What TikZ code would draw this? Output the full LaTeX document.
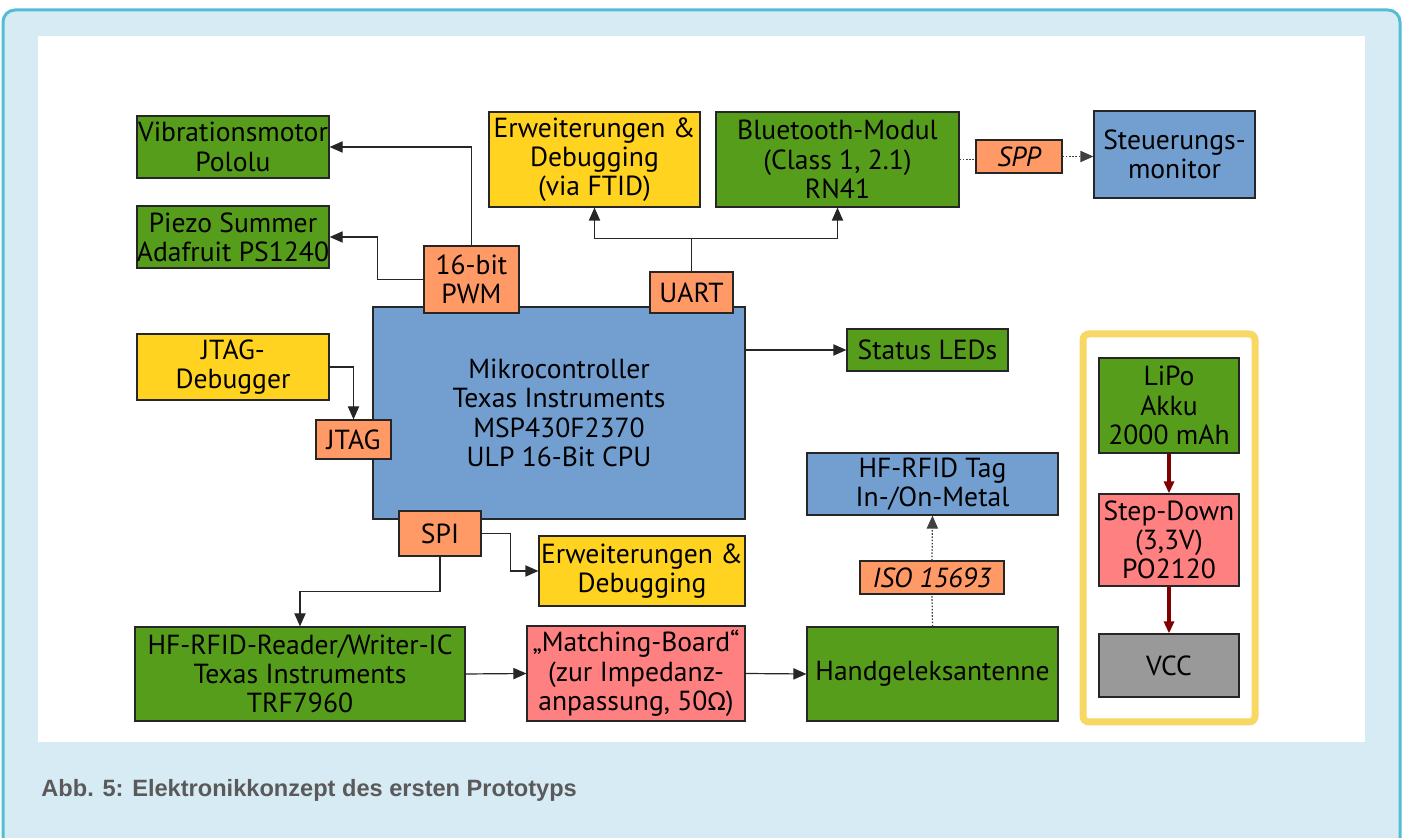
\documentclass[tikz,border=0pt]{standalone}
\usepackage{fontspec}
\setmainfont{PT Sans}
\newfontfamily\grk{Carlito}
\newfontfamily\capfont{Liberation Sans}
\usetikzlibrary{arrows.meta,calc}
\definecolor{cgreen}{HTML}{579D1C}
\definecolor{cblue}{HTML}{729FCF}
\definecolor{cyellow}{HTML}{FFD320}
\definecolor{corange}{HTML}{FF9966}
\definecolor{cred}{HTML}{FF8080}
\definecolor{cgray}{HTML}{999999}
\definecolor{framefill}{HTML}{D7EBF4}
\definecolor{frameblue}{HTML}{55BCD8}
\definecolor{pwryellow}{HTML}{F7D864}
\definecolor{pwrred}{HTML}{800000}
\definecolor{capgray}{HTML}{5A5A5A}
\newcommand\bx[7]{%
  \pgfmathsetmacro\bxcx{(#2+#4)/2}%
  \pgfmathsetmacro\bxcy{(#3+#5)/2}%
  \pgfmathsetmacro\bxw{(#4-#2)*0.5}%
  \pgfmathsetmacro\bxh{(#5-#3)*0.5}%
  \node[box,#6,minimum width=\bxw pt,minimum height=\bxh pt] (#1) at (\bxcx,\bxcy) {#7};}
\begin{document}
\begin{tikzpicture}[x=0.5pt,y=-0.5pt,
  box/.style={draw=black!85,line width=0.6pt,align=center,inner sep=0pt,
    font=\fontsize{13.8}{14.6}\selectfont},
  ital/.style={font=\fontsize{13.8}{14.6}\selectfont\itshape},
  arr/.style={draw=black!85,line width=0.6pt,-{Triangle[length=6.5pt,width=5.6pt]}},
  conn/.style={draw=black!85,line width=0.6pt},
  dots/.style={draw=black!75,line width=0.6pt,dash pattern=on 0.8pt off 0.8pt},
  pwrarr/.style={draw=pwrred,line width=2pt,-{Triangle[length=6pt,width=5pt]}}]
\useasboundingbox (0,0) rectangle (1405,838);
\clip (0,0) rectangle (1405,838);
\fill[white] (0,0) rectangle (1405,838);
\draw[line width=1.5pt,draw=frameblue,fill=framefill,rounded corners=6pt] (3,10) rectangle (1400,880);
\fill[white] (38,36) rectangle (1365,742);
\node[anchor=base west,inner sep=0pt,text=capgray,font=\capfont\bfseries\fontsize{11.8}{14}\selectfont] (cap) at (41,797) {Abb. 5: Elektronikkonzept des ersten Prototyps};
% power frame
\bx{pwr}{1083}{334}{1255}{722}{draw=pwryellow,line width=3.5pt,rounded corners=3pt}{}
% boxes
\bx{vib}{137}{116}{329}{178}{fill=cgreen}{Vibrationsmotor\\Pololu}
\bx{piezo}{137}{206}{329}{268}{fill=cgreen}{Piezo Summer\\Adafruit PS1240}
\bx{erw1}{489}{112}{700}{207}{fill=cyellow}{Erweiterungen \&\\Debugging\\(via FTID)}
\bx{bt}{716}{112}{959}{207}{fill=cgreen}{Bluetooth-Modul\\(Class 1, 2.1)\\RN41}
\bx{spp}{976}{140}{1062}{173}{fill=corange,ital}{SPP}
\bx{steu}{1094}{111}{1255}{198}{fill=cblue}{Steuerungs-\\monitor}
\bx{micro}{373}{307}{745}{519}{fill=cblue}{Mikrocontroller\\Texas Instruments\\MSP430F2370\\ULP 16-Bit CPU}
\bx{pwm}{424}{246}{519}{313}{fill=corange}{16-bit\\PWM}
\bx{uart}{650}{272}{733}{313}{fill=corange}{UART}
\bx{led}{847}{329}{1008}{371}{fill=cgreen}{Status LEDs}
\bx{jdbg}{137}{334}{329}{400}{fill=cyellow}{JTAG-\\Debugger}
\bx{jtag}{316}{420}{391}{459}{fill=corange}{JTAG}
\bx{spi}{399}{511}{481}{556}{fill=corange}{SPI}
\bx{erw2}{539}{536}{745}{606}{fill=cyellow}{Erweiterungen \&\\Debugging}
\bx{tag}{807}{453}{1058}{515}{fill=cblue}{HF-RFID Tag\\In-/On-Metal}
\bx{iso}{860}{561}{1004}{594}{fill=corange,ital}{ISO 15693}
\bx{reader}{135}{627}{465}{721}{fill=cgreen}{HF-RFID-Reader/Writer-IC\\Texas Instruments\\TRF7960}
\bx{match}{527}{626}{745}{721}{fill=cred}{„Matching-Board“\\(zur Impedanz-\\anpassung, 50{\grk Ω})}
\bx{hand}{807}{627}{1058}{721}{fill=cgreen}{Handgeleksantenne}
\bx{lipo}{1099}{358}{1239}{453}{fill=cgreen}{LiPo\\Akku\\2000 mAh}
\bx{step}{1099}{494}{1239}{586}{fill=cred}{Step-Down\\(3,3V)\\PO2120}
\bx{vcc}{1099}{634}{1239}{697}{fill=cgray}{VCC}
% connectors
\draw[arr] (pwm.north) |- (vib.east);
\draw[arr] (pwm.west) -| ($(piezo.east)+(48,0)$) -- (piezo.east);
\coordinate (uj) at ($(uart.north)+(0,-33)$);
\draw[conn] (uart.north) -- (uj);
\draw[arr] (uj) -| (erw1.south);
\draw[arr] (uj) -| (bt.south);
\draw[dots] (bt.east) -- (bt.east -| spp.west);
\draw[dots,-{Triangle[length=6.5pt,width=5.6pt]}] (spp.east) -- (spp.east -| steu.west);
\draw[arr] (micro.east |- led.west) -- (led.west);
\draw[arr] (jdbg.east) -| (jtag.north);
\draw[arr] (spi.east) -- ++(29,0) |- (erw2.west);
\draw[arr] (spi.south) -- ++(0,35) -| (reader.north);
\draw[arr] (reader.east) -- (match.west);
\draw[arr] (match.east) -- (hand.west);
\draw[dots] (hand.north) -- (iso.south);
\draw[dots,-{Triangle[length=6.5pt,width=5.6pt]}] (iso.north) -- (tag.south);
\draw[pwrarr] (lipo.south) -- (step.north);
\draw[pwrarr] (step.south) -- (vcc.north);
\end{tikzpicture}
\end{document}
